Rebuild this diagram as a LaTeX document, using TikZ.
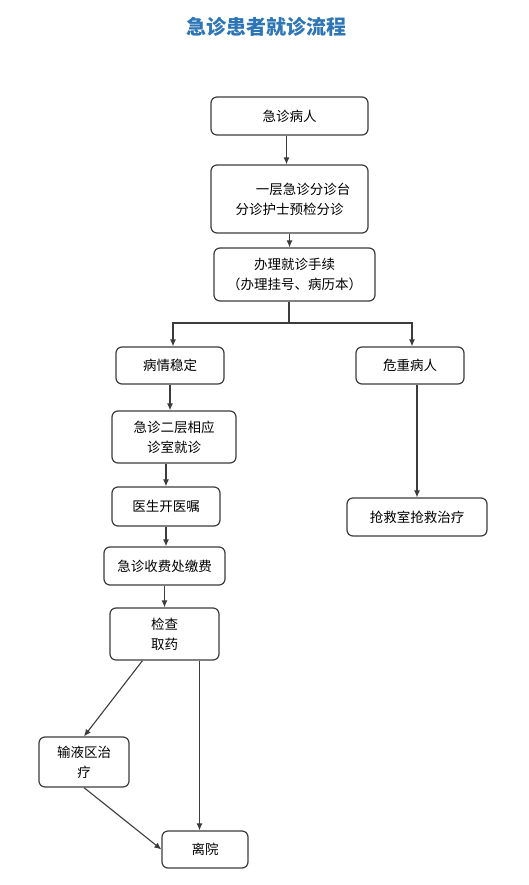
\documentclass[tikz,border=0pt]{standalone}
\usepackage{fontspec}
\setmainfont{Noto Sans CJK SC}
\usetikzlibrary{arrows.meta}
\definecolor{titleblue}{RGB}{46,117,182}
\definecolor{linegray}{RGB}{60,60,60}

\begin{document}
\begin{tikzpicture}[x=1pt, y=-1pt,
        box/.style={draw=linegray, line width=1.2pt, rounded corners=6pt, align=center, inner sep=0pt,
            font=\fontsize{13.5pt}{20pt}\selectfont},
        flow/.style={draw=linegray, line width=1.1pt, -{Latex[length=7pt,width=6pt]}}]
        \useasboundingbox (0,0) rectangle (528,885);
        \node[titleblue, font=\fontsize{20pt}{24pt}\selectfont\bfseries] (title) at (266,27) {急诊患者就诊流程};
        % upper column
        \node[box, minimum width=157pt, minimum height=38pt] (patient) at (289.5,116) {急诊病人};
        \node[box, minimum width=157pt, minimum height=68pt] (triage) at (289.5,199) {\hspace*{2em}一层急诊分诊台\\分诊护士预检分诊};
        \node[box, minimum width=161pt, minimum height=53pt] (register) at (294.5,274.5) {办理就诊手续\\（办理挂号、病历本）};
        \coordinate (split) at (289,323);
        % two branches
        \node[box, minimum width=108pt, minimum height=37pt] (stable) at (170,365.5) {病情稳定};
        \node[box, minimum width=108pt, minimum height=37pt] (critical) at (410,365.5) {危重病人};
        \node[box, minimum width=124pt, minimum height=52pt] (floor2) at (174,437) {急诊二层相应\\诊室就诊};
        \node[box, minimum width=108pt, minimum height=39pt] (doctor) at (166,506.5) {医生开医嘱};
        \node[box, minimum width=121pt, minimum height=38pt] (pay) at (164.5,566) {急诊收费处缴费};
        \node[box, minimum width=140pt, minimum height=38pt] (rescue) at (417,517) {抢救室抢救治疗};
        \node[box, minimum width=109pt, minimum height=52pt] (check) at (164.5,634) {检查\\取药};
        \node[box, minimum width=90pt, minimum height=50pt] (infusion) at (84,762) {输液区治\\疗};
        \node[box, minimum width=86pt, minimum height=37pt] (leave) at (205,849.5) {离院};
        % connectors
        \draw[flow] ([xshift=-3pt]patient.south) -- ([xshift=-3pt]patient.south |- triage.north);
        \draw[flow] (triage.south) -- (triage.south |- register.north);
        \draw[draw=linegray, line width=1.1pt] (register.south -| split) -- (split);
        \draw[flow] (split) -| ([xshift=3pt]stable.north);
        \draw[flow] (split) -| ([xshift=2pt]critical.north);
        \draw[flow] (stable) -- (stable.south |- floor2.north);
        \draw[flow] (floor2.south -| doctor) -- (doctor);
        \draw[flow] (doctor) -- (doctor.south |- pay.north);
        \draw[flow] (pay) -- (pay.south |- check.north);
        \draw[flow] (critical.south -| rescue) -- (rescue);
        \draw[flow] ([xshift=-22pt]check.south) -- (infusion.north);
        \draw[flow] ([xshift=35pt]check.south) -- ([xshift=35pt]check.south |- leave.north);
        \draw[flow] (infusion.south) -- (leave.west);
\end{tikzpicture}
\end{document}
